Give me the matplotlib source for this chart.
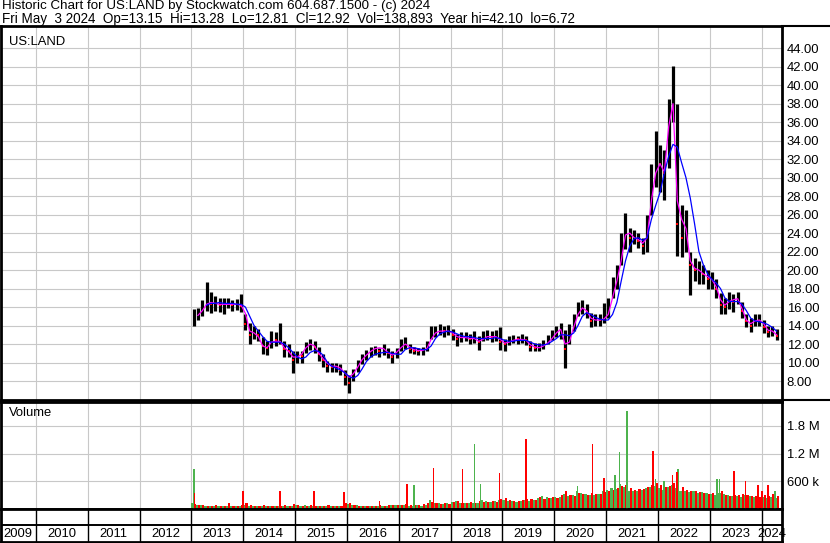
import numpy as np
import matplotlib
matplotlib.use("Agg")
import matplotlib.pyplot as plt

plt.rcParams['font.family'] = ['Liberation Sans', 'DejaVu Sans']

# ---- data (monthly, Jan 2013 .. Apr 2024) ----
first_year = 2013

close = [
    15.0, 15.3, 16.0, 16.5, 16.3, 16.5, 16.2, 16.3, 16.4, 16.2, 16.3, 16.1,
    14.2, 13.0, 13.2, 13.0, 11.8, 11.6, 12.5, 12.4, 12.8, 11.5, 11.2, 10.3,
    10.8, 10.7, 11.6, 12.1, 11.7, 10.9, 10.3, 9.6, 9.5, 9.6, 9.2, 8.4,
    7.8, 8.8, 9.7, 10.5, 10.9, 11.2, 11.4, 11.2, 11.4, 11.0, 10.6, 11.1,
    12.0, 12.1, 11.5, 11.3, 11.2, 11.3, 11.8, 13.0, 13.3, 13.5, 13.4, 13.6,
    13.0, 12.6, 12.8, 12.9, 12.6, 12.7, 12.2, 12.8, 12.9, 12.8, 12.9, 12.2,
    12.0, 12.4, 12.6, 12.5, 12.6, 12.4, 11.7, 11.6, 11.7, 11.9, 12.4, 13.0,
    13.4, 13.8, 11.5, 13.3, 14.3, 15.8, 16.2, 15.5, 14.5, 14.7, 14.6, 14.8,
    16.0, 18.0, 19.5, 22.0, 24.3, 23.5, 23.6, 23.2, 22.6, 23.5, 30.0, 32.0,
    31.5, 30.5, 36.5, 39.5, 25.0, 23.5, 24.5, 20.5, 20.0, 20.2, 19.6, 19.0,
    19.0, 18.0, 16.2, 16.0, 16.8, 16.6, 17.0, 15.6, 14.5, 14.0, 14.6, 14.6,
    13.8, 13.3, 13.5, 12.92,
]
high = [
    15.8, 15.9, 16.8, 18.7, 17.6, 17.2, 17.0, 17.0, 17.0, 16.8, 16.9, 17.4,
    15.3, 14.3, 14.0, 13.6, 12.8, 12.3, 13.4, 13.3, 14.3, 12.3, 12.0, 11.2,
    11.3, 11.3, 12.2, 12.6, 12.3, 11.7, 10.9, 10.2, 10.0, 10.0, 9.8, 9.2,
    8.6, 9.3, 10.3, 10.9, 11.4, 11.7, 11.8, 11.6, 12.0, 11.6, 11.2, 11.6,
    12.6, 12.8, 12.0, 11.7, 11.6, 11.7, 12.3, 14.0, 14.0, 14.2, 13.9, 14.1,
    13.6, 13.1, 13.3, 13.3, 13.1, 13.4, 12.9, 13.4, 13.5, 13.4, 13.5, 13.8,
    12.6, 12.9, 13.0, 12.9, 13.1, 12.9, 12.3, 12.1, 12.1, 12.4, 13.0, 13.5,
    14.0, 14.3, 13.5, 14.2, 15.2, 16.6, 16.8, 16.3, 15.4, 15.3, 15.2, 16.4,
    17.0, 19.2, 20.5, 24.0, 26.2, 24.5, 24.3, 24.0, 23.5, 26.0, 31.5, 35.0,
    33.5, 33.0, 38.5, 42.1, 38.0, 27.0, 26.5, 22.0, 21.3, 21.0, 20.5, 20.0,
    19.8, 19.0, 17.5, 17.0, 17.6, 17.4, 17.6, 16.5, 15.3, 14.8, 15.3, 15.2,
    14.6, 14.0, 14.0, 13.6,
]
low = [
    14.0, 14.6, 15.0, 15.6, 15.4, 15.6, 15.5, 15.3, 15.9, 15.6, 15.7, 15.5,
    13.5, 12.0, 12.5, 12.3, 10.9, 10.8, 11.6, 11.8, 12.0, 10.6, 10.6, 8.9,
    10.0, 10.0, 11.0, 11.4, 11.0, 10.2, 9.5, 9.0, 9.0, 9.0, 8.7, 7.6,
    6.72, 8.0, 9.0, 9.8, 10.3, 10.6, 10.8, 10.6, 10.8, 10.5, 10.0, 10.5,
    11.3, 11.5, 11.0, 10.9, 10.8, 10.8, 11.2, 12.6, 12.8, 13.0, 12.8, 13.0,
    12.4, 11.8, 12.2, 12.3, 12.0, 12.1, 11.4, 12.3, 12.4, 12.2, 12.3, 11.4,
    11.3, 11.9, 12.1, 12.0, 12.1, 11.9, 11.3, 11.2, 11.3, 11.5, 12.0, 12.4,
    12.8, 12.5, 9.4, 12.0, 13.4, 15.0, 15.3, 14.8, 13.8, 14.0, 14.0, 14.3,
    14.8, 17.0, 18.0, 20.5, 22.3, 22.0, 22.8, 22.4, 21.7, 22.0, 26.0, 29.0,
    28.5, 27.6, 31.0, 36.0, 21.5, 21.4, 22.0, 17.3, 18.8, 18.5, 18.5, 18.0,
    18.0, 17.0, 15.2, 15.2, 15.8, 15.5, 16.3, 14.8, 13.8, 13.3, 13.9, 14.0,
    13.2, 12.8, 12.9, 12.4,
]
ma_short = [
    np.nan, 15.1, 15.6, 16.3, 16.5, 16.4, 16.3, 16.3, 16.3, 16.3, 16.3, 16.2,
    15.3, 13.4, 13.2, 12.8, 11.8, 11.6, 12.2, 12.3, 12.3, 11.6, 11.2, 10.6,
    10.6, 10.9, 11.6, 12.0, 11.8, 11.0, 10.4, 9.9, 9.6, 9.6, 9.4, 8.9,
    8.4, 8.8, 9.5, 10.3, 10.8, 11.2, 11.5, 11.6, 11.5, 11.1, 10.8, 11.1,
    11.6, 12.0, 11.7, 11.4, 11.3, 11.3, 11.5, 12.5, 13.2, 13.4, 13.4, 13.4,
    13.2, 12.8, 12.7, 12.7, 12.6, 12.6, 12.3, 12.5, 12.8, 12.8, 12.8, 12.5,
    12.1, 12.2, 12.4, 12.5, 12.5, 12.4, 11.9, 11.7, 11.6, 11.8, 12.1, 12.6,
    13.2, 13.6, 12.0, 12.2, 13.8, 15.2, 15.9, 15.6, 14.8, 14.6, 14.6, 14.7,
    15.2, 17.0, 18.8, 21.0, 23.8, 24.0, 23.5, 23.3, 22.9, 23.5, 27.5, 30.5,
    31.5, 30.6, 35.5, 38.0, 27.5, 25.5, 24.5, 21.0, 20.2, 20.0, 19.6, 19.3,
    19.0, 18.2, 16.8, 16.2, 16.6, 16.8, 16.9, 15.8, 14.6, 14.2, 14.5, 14.6,
    14.2, 13.5, 13.4, 13.0,
]
ma_long = [
    np.nan, np.nan, np.nan, 16.2, 16.4, 16.4, 16.5, 16.4, 16.4, 16.4, 16.3, 16.3,
    16.0, 15.0, 14.0, 13.4, 12.8, 12.3, 12.2, 12.2, 12.2, 12.0, 11.6, 11.1,
    10.6, 10.4, 10.6, 11.1, 11.3, 11.2, 10.8, 10.0, 9.6, 9.4, 9.2, 8.9,
    8.5, 8.3, 8.6, 9.3, 10.1, 10.6, 10.9, 11.0, 11.1, 11.1, 11.0, 10.9,
    10.9, 11.4, 11.6, 11.6, 11.5, 11.4, 11.4, 11.8, 12.6, 13.1, 13.3, 13.4,
    13.3, 13.1, 12.9, 12.8, 12.8, 12.7, 12.6, 12.6, 12.6, 12.6, 12.7, 12.6,
    12.4, 12.3, 12.3, 12.4, 12.4, 12.4, 12.2, 12.0, 11.9, 11.9, 12.0, 12.3,
    12.6, 13.0, 13.0, 12.9, 13.2, 14.0, 15.0, 15.4, 15.2, 14.9, 14.7, 14.6,
    14.6, 15.2, 16.5, 18.8, 21.0, 22.6, 23.4, 23.5, 23.2, 23.5, 25.5, 27.0,
    28.4, 30.5, 32.3, 33.6, 33.3, 31.6, 30.0, 27.8, 25.0, 22.0, 20.6, 19.6,
    19.0, 18.6, 18.0, 17.0, 16.6, 16.6, 16.6, 16.3, 15.6, 14.8, 14.5, 14.4,
    14.3, 14.1, 13.8, 13.4,
]

# volume in thousands, split in up (green) / down (red) days per month
vol_up = [
    140, 90, 80, 70, 75, 70, 65, 70, 75, 60, 70, 65,
    80, 70, 65, 60, 70, 55, 60, 65, 60, 70, 60, 75,
    90, 70, 85, 70, 60, 55, 65, 60, 70, 75, 60, 80,
    110, 90, 80, 70, 65, 70, 60, 65, 70, 75, 80, 90,
    90, 80, 70, 75, 85, 70, 90, 200, 140, 120, 110, 130,
    150, 170, 130, 140, 140, 120, 130, 200, 180, 150, 170, 190,
    200, 180, 170, 160, 180, 190, 170, 190, 230, 280, 260, 240,
    250, 260, 330, 280, 300, 380, 350, 320, 300, 310, 330, 380,
    420, 450, 430, 550, 480, 400, 380, 390, 420, 450, 480, 500,
    450, 420, 480, 520, 450, 400, 380, 360, 380, 350, 370, 350,
    330, 300, 340, 320, 300, 290, 280, 260, 300, 280, 260, 270,
    260, 240, 250, 230,
]
vol_dn = [
    110, 95, 85, 75, 70, 80, 60, 75, 125, 70, 60, 90,
    120, 90, 70, 65, 80, 60, 70, 60, 65, 80, 75, 110,
    80, 75, 70, 90, 75, 60, 70, 80, 75, 60, 65, 120,
    130, 80, 70, 65, 75, 60, 65, 80, 70, 85, 95, 80,
    80, 100, 90, 80, 90, 110, 120, 160, 130, 110, 120, 110,
    160, 180, 140, 130, 150, 130, 170, 150, 160, 180, 160, 220,
    230, 190, 180, 170, 190, 220, 210, 200, 250, 220, 240, 260,
    240, 300, 400, 310, 290, 340, 330, 310, 350, 330, 320, 360,
    400, 420, 460, 500, 520, 460, 420, 430, 440, 470, 520, 560,
    520, 480, 500, 560, 600, 480, 420, 400, 380, 360, 340, 330,
    350, 320, 380, 300, 280, 300, 300, 320, 310, 290, 280, 260,
    300, 280, 320, 290,
]

# single-day volume spikes (date as decimal year, thousands, up day?)
spike_date = [2013.05, 2013.06, 2014.00, 2014.71, 2015.36, 2015.94, 2016.63,
              2017.16, 2017.29, 2017.67, 2018.23, 2018.46, 2018.58, 2018.94,
              2019.46, 2020.45, 2020.74, 2020.96, 2021.17, 2021.26, 2021.40,
              2021.91, 2021.95, 2022.12, 2022.28, 2022.37, 2022.39, 2023.14,
              2023.19, 2023.47, 2023.69, 2023.93, 2024.01, 2024.12, 2024.26]
spike_vol = [860, 340, 380, 380, 380, 370, 165,
             535, 525, 890, 870, 1420, 545, 775,
             1520, 490, 1410, 665, 745, 1240, 2130,
             1260, 640, 600, 740, 800, 860, 660,
             660, 830, 600, 530, 390, 530, 400]
spike_up = [1, 0, 0, 0, 0, 0, 0,
            0, 1, 0, 0, 1, 1, 0,
            0, 1, 0, 0, 1, 1, 1,
            0, 1, 1, 0, 0, 1, 1,
            1, 0, 0, 0, 0, 0, 1]

price_ticks = np.arange(8, 46, 2)
vol_ticks = [600e3, 1200e3, 1800e3]
vol_tick_labels = ['600 k', '1.2 M', '1.8 M']
years = list(range(2009, 2025))

title1 = "Historic Chart for US:LAND by Stockwatch.com 604.687.1500 - (c) 2024"
title2 = ("Fri May  3 2024  Op=13.15  Hi=13.28  Lo=12.81  Cl=12.92  "
          "Vol=138,893  Year hi=42.10  lo=6.72")

# ---- layout (pixel based) ----
W, H = 830, 543
x0, x1 = 2009.3155, 2024.395
GRID = '#c8c8c8'
RED = '#ff0000'
GREEN = '#4db34d'
FS = 9.4


def box(l, t, r, b):
    return [l / W, 1 - b / H, (r - l) / W, (b - t) / H]


fig = plt.figure(figsize=(W / 100, H / 100), dpi=100)
ax = fig.add_axes(box(0.5, 26, 782, 400))
axv = fig.add_axes(box(0.5, 402, 782, 509))
axy = fig.add_axes(box(0.5, 509, 782, 542))

n = len(close)
t = first_year + (np.arange(n) + 0.5) / 12
close_a = np.array(close)
down = np.r_[False, np.diff(close_a) < 0]

# price panel
ax.vlines(t, low, high, color='black', lw=2.3, zorder=3)
ax.plot(t[down], close_a[down], 's', color=RED, ms=1.6, mew=0, zorder=4)
ax.plot(t, ma_short, color='#ff00ff', lw=0.9, zorder=5)
ax.plot(t, ma_long, color='#0000ff', lw=0.9, zorder=5)
ax.set_xlim(x0, x1)
ax.set_ylim(5.95, 46.4)
ax.set_yticks(price_ticks)
ax.set_yticklabels([f"{v:.2f}" for v in price_ticks])
ax.set_xticks(years[1:])
ax.tick_params(axis='x', length=0, labelbottom=False)
ax.yaxis.tick_right()
ax.tick_params(axis='y', length=0, pad=3.5, labelsize=FS)
ax.grid(True, color=GRID, lw=0.8, zorder=0)
ax.text(0.011, 0.958, "US:LAND", transform=ax.transAxes, fontsize=FS,
        va='center', ha='left')

# volume panel
mt = first_year + np.arange(n) / 12
axv.bar(mt + 0.25 / 12, np.array(vol_up) * 1e3, width=0.5 / 12,
        color=GREEN, lw=0, zorder=2)
axv.bar(mt + 0.75 / 12, np.array(vol_dn) * 1e3, width=0.5 / 12,
        color=RED, lw=0, zorder=2)
sd = np.array(spike_date)
sv = np.array(spike_vol) * 1e3
su = np.array(spike_up, dtype=bool)
axv.bar(sd[su], sv[su], width=0.03, color=GREEN, lw=0, zorder=3)
axv.bar(sd[~su], sv[~su], width=0.03, color=RED, lw=0, zorder=3)
axv.set_xlim(x0, x1)
axv.set_ylim(0, 2.32e6)
axv.set_yticks(vol_ticks)
axv.set_yticklabels(vol_tick_labels)
axv.set_xticks(years[1:])
axv.tick_params(axis='x', length=0, labelbottom=False)
axv.yaxis.tick_right()
axv.tick_params(axis='y', length=0, pad=3.5, labelsize=FS)
axv.grid(True, color=GRID, lw=0.8, zorder=0)
axv.text(0.011, 0.9, "Volume", transform=axv.transAxes, fontsize=FS,
         va='center', ha='left')

# year strip
axy.set_xlim(x0, x1)
axy.set_ylim(0, 1)
axy.set_xticks([])
axy.set_yticks([])
axy.axhline(0.515, color='black', lw=1.4)
for y in years[1:]:
    axy.axvline(y, color='black', lw=1)
for y in years:
    c = (max(y, x0) + min(y + 1, x1)) / 2
    axy.text(c, 0.24, str(y), ha='center', va='center', fontsize=FS,
             clip_on=False)

for a in (ax, axv, axy):
    for s in a.spines.values():
        s.set_color('black')
        s.set_linewidth(2)

# long separators running into the label margin
fig.add_artist(plt.Line2D([782 / W, 1], [1 - 26 / H] * 2, color='black',
                          lw=1.5, transform=fig.transFigure))
fig.add_artist(plt.Line2D([782 / W, 1], [1 - 400 / H] * 2, color='black',
                          lw=1.5, transform=fig.transFigure))

fig.text(2 / W, 1 - 0.5 / H, title1, fontsize=9.65, va='top', ha='left')
fig.text(2 / W, 1 - 12 / H, title2, fontsize=9.75, va='top', ha='left')

fig.savefig("out.png", dpi=100, facecolor='white')
